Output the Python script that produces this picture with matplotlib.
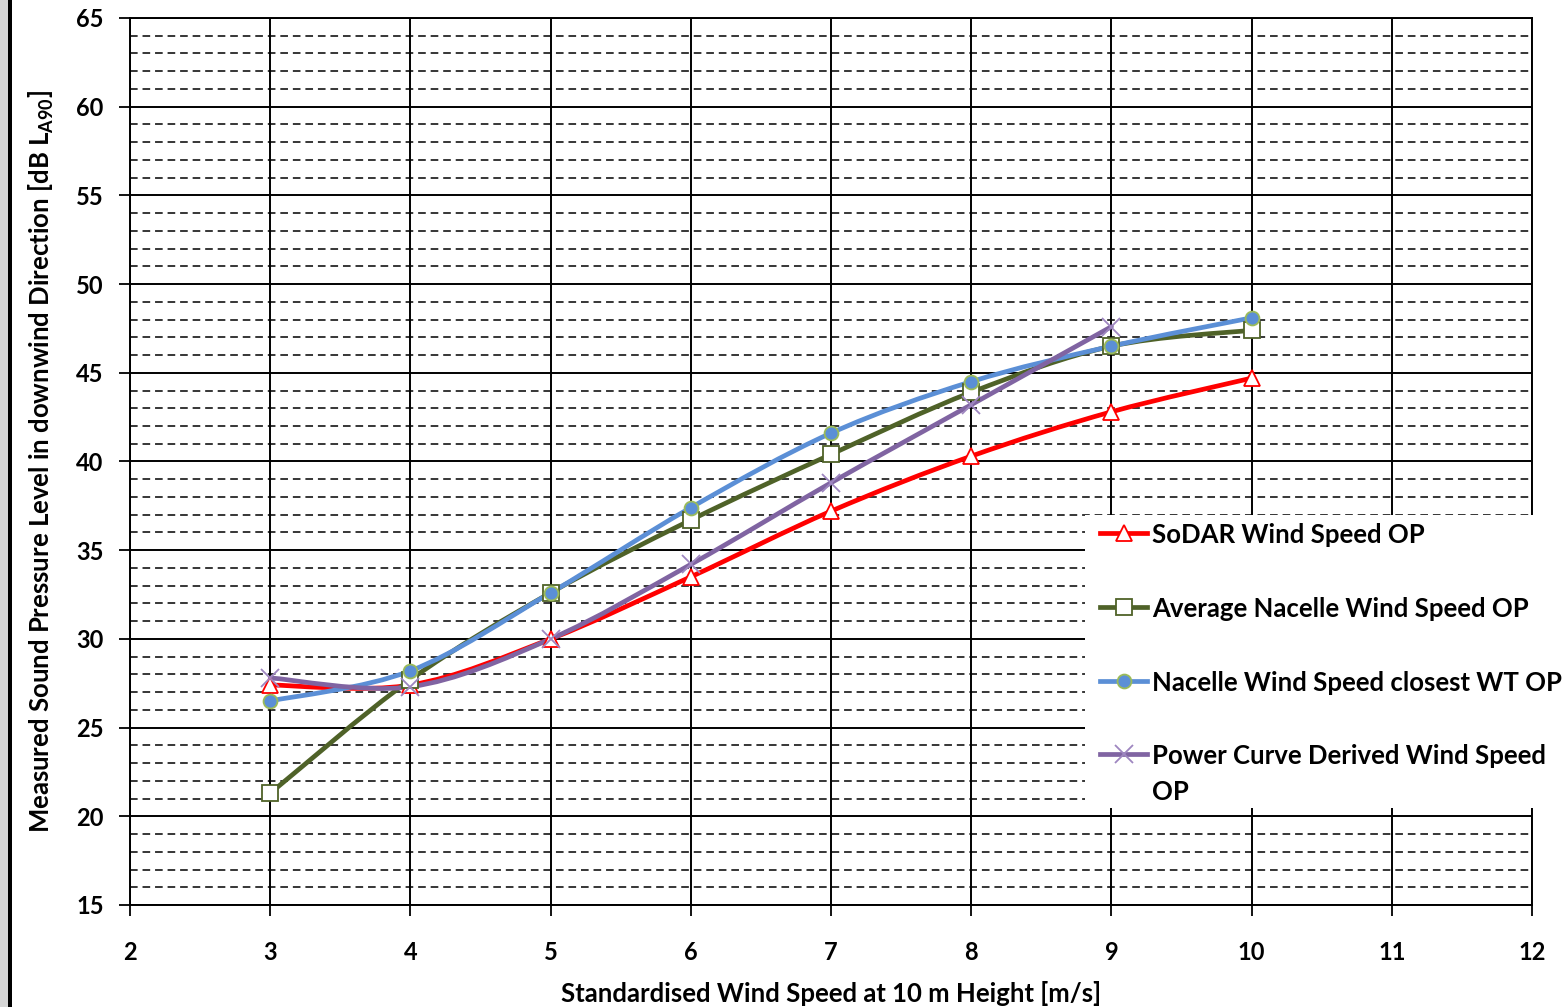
import matplotlib
matplotlib.use('Agg')
import matplotlib.pyplot as plt
import numpy as np
from matplotlib.path import Path
from matplotlib.patches import PathPatch, Rectangle
from matplotlib.lines import Line2D

# ---------------- data ----------------
wind_speed = [3, 4, 5, 6, 7, 8, 9, 10]
sodar = [27.4, 27.4, 30.0, 33.5, 37.2, 40.3, 42.8, 44.7]
avg_nacelle = [21.3, 27.7, 32.6, 36.7, 40.4, 43.9, 46.5, 47.4]
closest_wt = [26.5, 28.2, 32.6, 37.4, 41.6, 44.5, 46.5, 48.1]
power_curve_speed = [3, 4, 5, 6, 7, 8, 9]
power_curve = [27.8, 27.3, 30.0, 34.2, 38.8, 43.2, 47.6]

labels = ["SoDAR Wind Speed OP",
          "Average Nacelle Wind Speed OP",
          "Nacelle Wind Speed closest WT OP",
          "Power Curve Derived Wind Speed\nOP"]
x_ticks = [2, 3, 4, 5, 6, 7, 8, 9, 10, 11, 12]
y_ticks = [15, 20, 25, 30, 35, 40, 45, 50, 55, 60, 65]

FONT = ['Lato', 'DejaVu Sans']
plt.rcParams['font.family'] = FONT
plt.rcParams['font.weight'] = 'bold'

W, H = 1568, 1007
AX_L, AX_R, AX_T, AX_B = 130, 1532, 18, 905


def smooth_path(x, y):
    pts = np.column_stack([x, y]).astype(float)
    n = len(pts)
    verts = [pts[0]]
    codes = [Path.MOVETO]
    for i in range(n - 1):
        p0 = pts[i - 1] if i > 0 else pts[i]
        p1 = pts[i]
        p2 = pts[i + 1]
        p3 = pts[i + 2] if i + 2 < n else pts[i + 1]
        c1 = p1 + (p2 - p0) / 6.0
        c2 = p2 - (p3 - p1) / 6.0
        verts += [c1, c2, p2]
        codes += [Path.CURVE4] * 3
    return Path(verts, codes)


def afx(px):
    return (px - AX_L) / (AX_R - AX_L)


def afy(py):
    return (AX_B - py) / (AX_B - AX_T)


fig = plt.figure(figsize=(W / 100, H / 100), dpi=100)
fig.patch.set_facecolor('white')
fig.patches.append(Rectangle((0, 0), 8 / W, 1, transform=fig.transFigure,
                             facecolor='#d6d6d6', edgecolor='none'))
fig.patches.append(Rectangle((8 / W, 0), 4 / W, 1, transform=fig.transFigure,
                             facecolor='black', edgecolor='none'))

ax = fig.add_axes([AX_L / W, 1 - AX_B / H, (AX_R - AX_L) / W, (AX_B - AX_T) / H])
ax.set_xlim(2, 12)
ax.set_ylim(15, 65)
ax.set_xticks(x_ticks)
ax.set_yticks(y_ticks)
ax.set_yticks(np.arange(15, 66, 1), minor=True)
ax.tick_params(axis='both', which='major', direction='out', length=8, width=1.3,
               labelsize=17, colors='black')
ax.tick_params(axis='y', which='major', pad=11)
ax.tick_params(axis='x', which='major', pad=18)
ax.tick_params(axis='y', which='minor', length=0)
for lab in ax.get_xticklabels() + ax.get_yticklabels():
    lab.set_fontweight('bold')

ax.grid(which='major', color='black', linewidth=1.4, linestyle='-')
ax.grid(which='minor', axis='y', color='black', linewidth=1.1, dashes=(5, 3.2))
ax.set_axisbelow(True)
for s in ax.spines.values():
    s.set_color('black')
    s.set_linewidth(1.4)

series = [
    (wind_speed, sodar, '#FF0000', dict(marker='^', markersize=12, markerfacecolor='white',
                                         markeredgecolor='#FF0000', markeredgewidth=1.3)),
    (wind_speed, avg_nacelle, '#4F6228', dict(marker='s', markersize=12, markerfacecolor='white',
                                               markeredgecolor='#4F6228', markeredgewidth=1.3)),
    (wind_speed, closest_wt, '#5B8FD6', dict(marker='o', markersize=10, markerfacecolor='#5B8FD6',
                                              markeredgecolor='#9BBB59', markeredgewidth=1.3)),
    (power_curve_speed, power_curve, '#8064A2', dict(marker='x', markersize=13,
                                                     markeredgecolor='#9E86C0', markeredgewidth=1.3)),
]

for i, (xs, ys, col, mk) in enumerate(series):
    patch = PathPatch(smooth_path(xs, ys), facecolor='none', edgecolor=col, linewidth=3.4,
                      capstyle='round', joinstyle='round', zorder=3 + i * 0.1)
    ax.add_patch(patch)
    ax.plot(xs, ys, linestyle='none', zorder=4 + i * 0.1, **mk)

# ---------------- legend (drawn manually to match layout) ----------------
box = Rectangle((afx(1085), afy(808)), afx(1566) - afx(1085), afy(515) - afy(808),
                transform=ax.transAxes, facecolor='white', edgecolor='none',
                clip_on=False, zorder=10)
ax.add_patch(box)
row_y = [533, 607, 681, 754]
line_step = 36
for (xs, ys, col, mk), lab, ry in zip(series, labels, row_y):
    ax.add_line(Line2D([afx(1100), afx(1147)], [afy(ry), afy(ry)], color=col, linewidth=3.4,
                       transform=ax.transAxes, clip_on=False, zorder=11))
    ax.add_line(Line2D([afx(1123.5)], [afy(ry)], linestyle='none', transform=ax.transAxes,
                       clip_on=False, zorder=12, **mk))
    for k, part in enumerate(lab.split('\n')):
        ax.text(afx(1152), afy(ry + k * line_step), part, transform=ax.transAxes,
                ha='left', va='center_baseline', fontsize=18.5, fontweight='bold',
                color='black', zorder=13, clip_on=False)

ax.set_xlabel("Standardised Wind Speed at 10 m Height [m/s]", fontsize=18.5,
              fontweight='bold', labelpad=12)
ax.set_ylabel("Measured Sound Pressure Level in downwind Direction [dB L$_{\\mathregular{A90}}$]",
              fontsize=18.5, fontweight='bold', labelpad=14)

fig.savefig('out.png', dpi=100, facecolor='white')
